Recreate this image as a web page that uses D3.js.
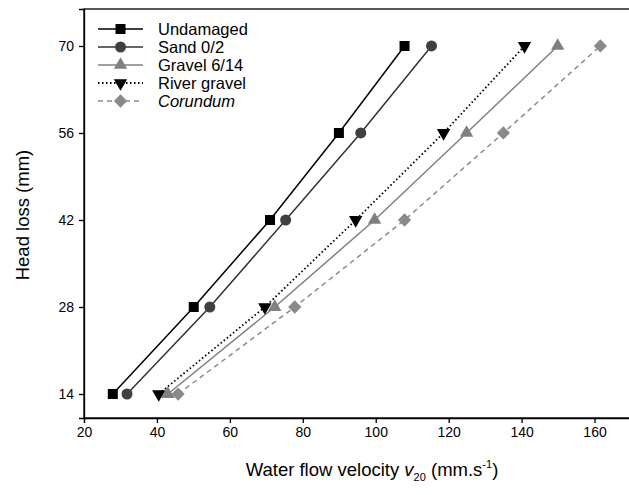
<html>
<head>
<meta charset="utf-8">
<script src="https://d3js.org/d3.v7.min.js"></script>
<style>
  body { margin: 0; background: #fff; }
  text { font-family: "Liberation Sans", Arial, sans-serif; }
  .tick text { font-size: 14px; fill: #000; }
</style>
</head>
<body>
<script>
var headLoss = [14, 28, 42, 56, 70];
var undamaged = [27.9, 50.1, 71.0, 89.9, 107.9];
var sand = [31.8, 54.5, 75.3, 95.9, 115.3];
var gravel = [43.0, 72.3, 99.7, 124.9, 149.9];
var riverGravel = [40.5, 69.6, 94.5, 118.6, 140.8];
var corundum = [45.8, 77.8, 107.9, 135.0, 161.6];
var xTicks = [20, 40, 60, 80, 100, 120, 140, 160];

var series = [
  { name: 'Undamaged', vals: undamaged, color: '#000', mark: '#000', dash: null, sym: d3.symbolSquare, size: 100, rot: 0, italic: false },
  { name: 'Sand 0/2', vals: sand, color: '#333', mark: '#404040', dash: null, sym: d3.symbolCircle, size: 95, rot: 0, italic: false },
  { name: 'Gravel 6/14', vals: gravel, color: '#808080', mark: '#808080', dash: null, sym: d3.symbolTriangle, size: 78, rot: 0, italic: false },
  { name: 'River gravel', vals: riverGravel, color: '#000', mark: '#000', dash: '1.5,2.5', sym: d3.symbolTriangle, size: 78, rot: 180, italic: false },
  { name: 'Corundum', vals: corundum, color: '#8c8c8c', mark: '#8a8a8a', dash: '5,4', sym: d3.symbolSquare, size: 88, rot: 45, italic: true }
];

var W = 629, H = 495;
var pLeft = 84, pRight = 631, pTop = 9, pBottom = 418;

var svg = d3.select('body').append('svg')
  .attr('width', W).attr('height', H);

var x = d3.scaleLinear().domain([20, 170]).range([pLeft, pRight]);
var y = d3.scaleLinear().domain([10.14, 75.95]).range([pBottom, pTop]);

// frame
svg.append('rect')
  .attr('x', pLeft).attr('y', pTop)
  .attr('width', pRight - pLeft).attr('height', pBottom - pTop)
  .attr('fill', 'none').attr('stroke', '#000').attr('stroke-width', 1.3);

var xAxis = svg.append('g')
  .attr('transform', 'translate(0,' + pBottom + ')')
  .call(d3.axisBottom(x).tickValues(xTicks).tickSize(5).tickPadding(4));
var yAxis = svg.append('g')
  .attr('transform', 'translate(' + pLeft + ',0)')
  .call(d3.axisLeft(y).tickValues(headLoss).tickSize(5).tickPadding(5));
[xAxis, yAxis].forEach(function(a) {
  a.select('.domain').attr('stroke-width', 1.3);
  a.selectAll('.tick line').attr('stroke-width', 1.3);
});

var line = d3.line()
  .x(function(d) { return x(d[0]); })
  .y(function(d) { return y(d[1]); });

function lineWidth(s) { return s.dash === '1.5,2.5' ? 1.8 : 1.5; }

series.forEach(function(s) {
  var pts = s.vals.map(function(v, i) { return [v, headLoss[i]]; });
  svg.append('path')
    .attr('d', line(pts))
    .attr('fill', 'none')
    .attr('stroke', s.color)
    .attr('stroke-width', lineWidth(s))
    .attr('stroke-dasharray', s.dash);
  svg.selectAll(null).data(pts).enter().append('path')
    .attr('d', d3.symbol().type(s.sym).size(s.size))
    .attr('transform', function(d) {
      return 'translate(' + x(d[0]) + ',' + y(d[1]) + ') rotate(' + s.rot + ')';
    })
    .attr('fill', s.mark);
});

// legend
var leg = svg.append('g');
series.forEach(function(s, i) {
  var ly = 29 + i * 18;
  leg.append('line')
    .attr('x1', 98).attr('x2', 143).attr('y1', ly).attr('y2', ly)
    .attr('stroke', s.color)
    .attr('stroke-width', lineWidth(s))
    .attr('stroke-dasharray', s.dash);
  leg.append('path')
    .attr('d', d3.symbol().type(s.sym).size(s.size))
    .attr('transform', 'translate(120.5,' + ly + ') rotate(' + s.rot + ')')
    .attr('fill', s.mark);
  leg.append('text')
    .attr('x', 158).attr('y', ly + 6)
    .style('font-size', '16.5px')
    .style('font-style', s.italic ? 'italic' : 'normal')
    .text(s.name);
});

// axis titles
svg.append('text')
  .attr('transform', 'translate(28.5,215) rotate(-90)')
  .attr('text-anchor', 'middle')
  .style('font-size', '18.5px')
  .text('Head loss (mm)');

var xt = svg.append('text')
  .attr('x', 372).attr('y', 476)
  .attr('text-anchor', 'middle')
  .style('font-size', '18.5px');
xt.append('tspan').text('Water flow velocity ');
xt.append('tspan').style('font-style', 'italic').text('v');
xt.append('tspan').attr('dy', 5).style('font-size', '11px').text('20');
xt.append('tspan').attr('dy', -5).text(' (mm.s');
xt.append('tspan').attr('dy', -8).style('font-size', '11px').text('-1');
xt.append('tspan').attr('dy', 8).text(')');
</script>
</body>
</html>
